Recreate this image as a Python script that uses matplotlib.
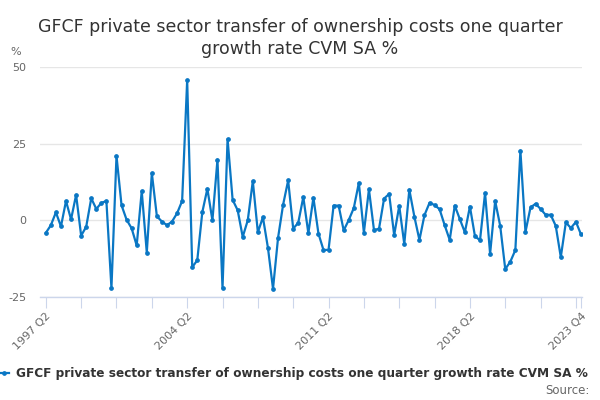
import matplotlib
matplotlib.use("Agg")
import matplotlib.pyplot as plt
import numpy as np

values = [
    -4.1, -1.6, 2.6, -2.0, 6.3, 0.3, 8.3, -5.0, -2.1, 7.2,
    3.7, 5.7, 6.3, -22.1, 21.0, 4.9, 0.2, -2.6, -8.2, 9.5,
    -10.5, 15.4, 1.3, -0.4, -1.6, -0.4, 2.3, 6.3, 45.7, -15.3,
    -13.0, 2.7, 10.3, 0.0, 19.8, -22.1, 26.5, 6.7, 3.3, -5.4,
    0.0, 12.8, -3.9, 1.0, -9.0, -22.3, -5.7, 5.1, 13.0, -2.7,
    -0.8, 7.6, -4.2, 7.4, -4.3, -9.7, -9.6, 4.8, 4.8, -3.3,
    0.1, 4.0, 12.2, -4.0, 10.1, -3.2, -2.7, 7.1, 8.6, -4.8,
    4.7, -7.7, 10.0, 1.2, -6.4, 1.7, 5.7, 5.0, 3.6, -1.6,
    -6.4, 4.8, 0.4, -3.9, 4.5, -5.2, -6.5, 8.9, -10.9, 6.3,
    -1.8, -15.9, -13.5, -9.7, 22.7, -3.8, 4.2, 5.4, 3.7, 1.8,
    1.8, -1.8, -12.0, -0.7, -2.5, -0.5, -4.6,
]
start_year, start_q = 1997, 2
quarters = []
y, q = start_year, start_q
for _ in values:
    quarters.append(f"{y} Q{q}")
    q += 1
    if q > 4:
        q = 1
        y += 1

tick_idx = list(range(0, len(values) - 1, 7)) + [len(values) - 1]
label_idx = [0, 28, 56, 84, len(values) - 1]
yticks = [-25, 0, 25, 50]

title = "GFCF private sector transfer of ownership costs one quarter\ngrowth rate CVM SA %"
legend_label = "GFCF private sector transfer of ownership costs one quarter growth rate CVM SA %"
line_color = "#0a77c4"

fig = plt.figure(figsize=(6, 4), dpi=100)
ax = fig.add_axes([40/600, 103/400, 542/600, 230/400])
x = np.arange(len(values))
ax.plot(x, values, color=line_color, lw=1.6, marker="o", ms=2.4, zorder=3)
ax.set_xlim(-1.15, 106.2)
ax.set_ylim(-25, 50)
ax.set_yticks(yticks)
ax.set_yticklabels([str(v) for v in yticks])
ax.grid(axis="y", color="#e6e6e6", lw=1)
ax.set_axisbelow(True)
for s in ["top", "right", "left"]:
    ax.spines[s].set_visible(False)
ax.spines["bottom"].set_color("#ccd6eb")
ax.spines["bottom"].set_linewidth(1)
ax.tick_params(axis="y", length=0, labelsize=8, labelcolor="#666666", pad=10)
ax.set_xticks(tick_idx)
ax.set_xticklabels([quarters[i] if i in label_idx else "" for i in tick_idx],
                   rotation=45, ha="right", rotation_mode="anchor")
ax.tick_params(axis="x", length=8, color="#ccd6eb", labelsize=8,
               labelcolor="#666666", pad=2)

fig.text(0.5, 0.955, title, ha="center", va="top", fontsize=12.5,
         color="#333333", linespacing=1.25)
fig.text(10/600, 1 - 52/400, "%", fontsize=8, color="#666666", va="center")

fig.add_artist(plt.Line2D([0, 9/600], [1 - 373/400] * 2, color=line_color, lw=1.6))
fig.add_artist(plt.Line2D([4/600], [1 - 373/400], color=line_color, marker="o", ms=2.4))
fig.text(16/600, 1 - 373/400, legend_label, fontsize=8.7, fontweight="bold",
         color="#333333", va="center")
fig.text(590/600, 1 - 390/400, "Source:", fontsize=8.5, color="#666666",
         ha="right", va="center")

fig.savefig("out.png", dpi=100)
